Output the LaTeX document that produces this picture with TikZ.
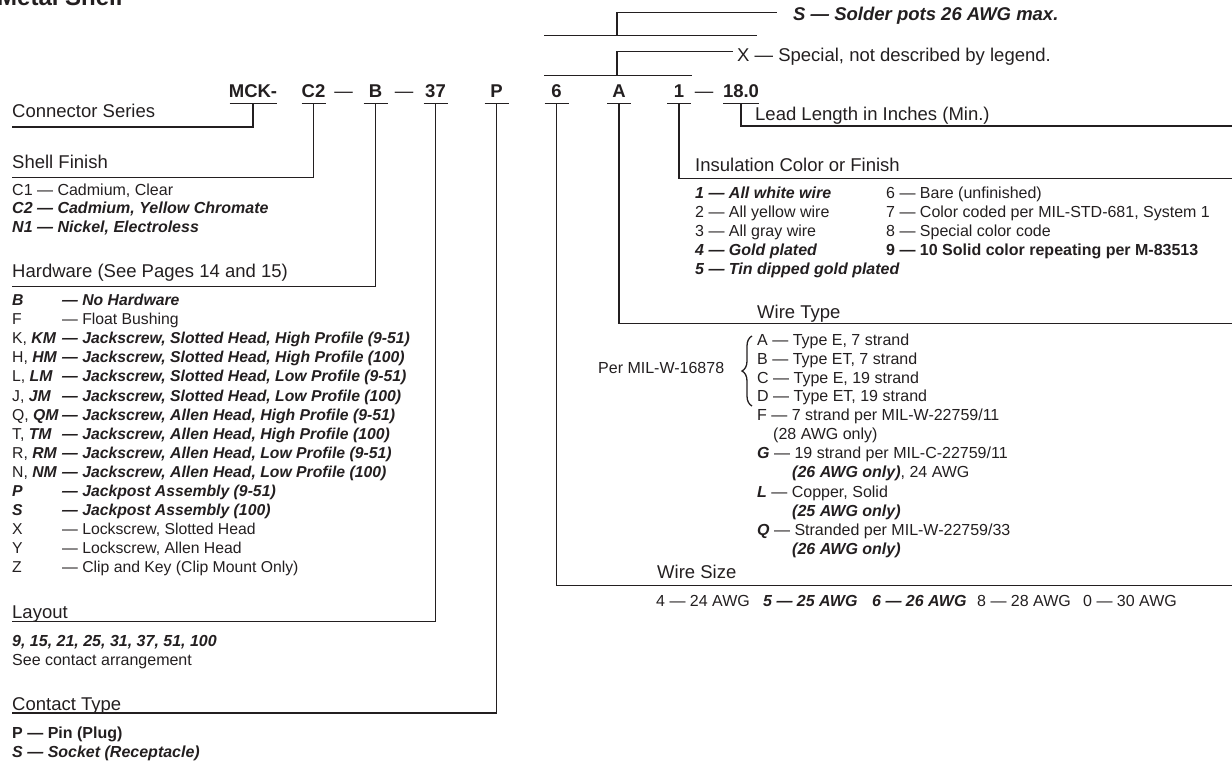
\documentclass[tikz,border=0pt]{standalone}
\usepackage{fontspec}
\setmainfont{Liberation Sans}
\usetikzlibrary{calc,decorations.pathreplacing}
\definecolor{ink}{HTML}{231F20}
\newcommand\BI[1]{{\bfseries\itshape #1}}
\begin{document}
\begin{tikzpicture}[x=1pt,y=-1pt,
  ln/.style={draw=ink, line width=1.4pt},
  head/.style={anchor=base west, inner sep=0pt, font=\fontsize{18.5}{20}\selectfont, text=ink},
  item/.style={anchor=base west, inner sep=0pt, font=\fontsize{16}{18}\selectfont, text=ink},
  hwitem/.style={item, font=\fontsize{15.75}{18}\selectfont},
  code/.style={anchor=base, inner sep=0pt, font=\fontsize{18.5}{20}\selectfont\bfseries, text=ink},
  dsh/.style={anchor=base, inner sep=0pt, font=\fontsize{18.5}{20}\selectfont, text=ink},
]
\useasboundingbox (0,0) rectangle (1232,761);

% title (cut at top)
\node[anchor=base west, inner sep=0pt, font=\fontsize{24}{26}\selectfont\bfseries, text=ink] (title) at (-3,5) {Metal Shell};

% ---------- part number codes ----------
\node[code] (mck) at (253,97.7) {MCK-};
\node[code] (c2) at (313.5,97.7) {C2};
\node[dsh] (d1) at (343.5,97.7) {—};
\node[code] (bb) at (375.5,97.7) {B};
\node[dsh] (d2) at (404,97.7) {—};
\node[code] (l37) at (435.5,97.7) {37};
\node[code] (pp) at (496.5,97.7) {P};
\node[code] (s6) at (556.5,97.7) {6};
\node[code] (aa) at (619,97.7) {A};
\node[code] (one) at (679,97.7) {1};
\node[dsh] (d3) at (704,97.7) {—};
\node[code] (len) at (741,97.7) {18.0};

\foreach \n/\w in {mck/47,c2/24,bb/24,l37/24,pp/24,s6/24,aa/24,one/24,len/36}
  \draw[ln] ($(\n.base)+(-\w/2,5.6)$) -- ($(\n.base)+(\w/2,5.6)$);

% ---------- top brackets ----------
\coordinate (sL) at (544,35.7);
\coordinate (sR) at (757,35.7);
\coordinate (sK) at (617,35.7);
\coordinate (sE) at (777,12.7);
\node[head, font=\fontsize{18.5}{20}\selectfont\bfseries\itshape] (stxt) at (793,20.7) {S — Solder pots 26 AWG max.};
\draw[ln] (sL) -- (sR);
\draw[ln] (sK) |- (sE);

\coordinate (xL) at (544,75.7);
\coordinate (xR) at (692,75.7);
\coordinate (xK) at (617,75.7);
\coordinate (xE) at (733,51.7);
\node[head] (xtxt) at (737,61.7) {X — Special, not described by legend.};
\draw[ln] (xL) -- (xR);
\draw[ln] (xK) |- (xE);

% ---------- left headings ----------
\node[head] (hcs) at (12,117.3) {Connector Series};
\coordinate (ecs) at (12,127);
\node[head] (hsf) at (12,168.3) {Shell Finish};
\coordinate (esf) at (12,177.3);
\node[head] (hhw) at (12,277.3) {Hardware (See Pages 14 and 15)};
\coordinate (ehw) at (12,286.7);
\node[head] (hly) at (12,618) {Layout};
\coordinate (ely) at (12,621.7);
\node[head] (hct) at (12,710) {Contact Type};
\coordinate (ect) at (12,713);

\draw[ln] ($(mck.base)+(0,5.6)$) |- (ecs);
\draw[ln] ($(c2.base)+(0,5.6)$) |- (esf);
\draw[ln] ($(bb.base)+(0,5.6)$) |- (ehw);
\draw[ln] ($(l37.base)+(0,5.6)$) |- (ely);
\draw[ln] ($(pp.base)+(0,5.6)$) |- (ect);

% ---------- right headings ----------
\node[head] (hll) at (755,120.7) {Lead Length in Inches (Min.)};
\coordinate (ell) at (1232,126);
\node[head] (hic) at (695,171.7) {Insulation Color or Finish};
\coordinate (eic) at (1232,178.3);
\node[head] (hwt) at (757,318.3) {Wire Type};
\coordinate (ewt) at (1232,323.3);
\node[head] (hws) at (657,578) {Wire Size};
\coordinate (ews) at (1232,585.7);

\draw[ln] ($(len.base)+(0,5.6)$) |- (ell);
\draw[ln] ($(one.base)+(0,5.6)$) |- (eic);
\draw[ln] ($(aa.base)+(0,5.6)$) |- (ewt);
\draw[ln] ($(s6.base)+(0,5.6)$) |- (ews);

% ---------- Shell finish list ----------
\node[item] (sf1) at (12,195) {C1 — Cadmium, Clear};
\node[item] (sf2) at (12,213.8) {\BI{C2 — Cadmium, Yellow Chromate}};
\node[item] (sf3) at (12,232.7) {\BI{N1 — Nickel, Electroless}};

% ---------- Hardware list ----------
\foreach \i/\a/\b [count=\k from 0] in {
  hw1/{\BI{B}}/{\BI{— No Hardware}},
  hw2/{F}/{— Float Bushing},
  hw3/{K, \BI{KM}}/{\BI{— Jackscrew, Slotted Head, High Profile (9-51)}},
  hw4/{H, \BI{HM}}/{\BI{— Jackscrew, Slotted Head, High Profile (100)}},
  hw5/{L, \BI{LM}}/{\BI{— Jackscrew, Slotted Head, Low Profile (9-51)}},
  hw6/{J, \BI{JM}}/{\BI{— Jackscrew, Slotted Head, Low Profile (100)}},
  hw7/{Q, \BI{QM}}/{\BI{— Jackscrew, Allen Head, High Profile (9-51)}},
  hw8/{T, \BI{TM}}/{\BI{— Jackscrew, Allen Head, High Profile (100)}},
  hw9/{R, \BI{RM}}/{\BI{— Jackscrew, Allen Head, Low Profile (9-51)}},
  hw10/{N, \BI{NM}}/{\BI{— Jackscrew, Allen Head, Low Profile (100)}},
  hw11/{\BI{P}}/{\BI{— Jackpost Assembly (9-51)}},
  hw12/{\BI{S}}/{\BI{— Jackpost Assembly (100)}},
  hw13/{X}/{— Lockscrew, Slotted Head},
  hw14/{Y}/{— Lockscrew, Allen Head},
  hw15/{Z}/{— Clip and Key (Clip Mount Only)}} {
  \node[hwitem] (\i a) at (12,305.7+19.07*\k) {\a};
  \node[hwitem] (\i b) at (62,305.7+19.07*\k) {\b};
}

% ---------- Layout ----------
\node[item] (ly1) at (12,646) {\BI{9, 15, 21, 25, 31, 37, 51, 100}};
\node[item] (ly2) at (12,665) {See contact arrangement};

% ---------- Contact type ----------
\node[item] (ct1) at (12,738) {\bfseries P — Pin (Plug)};
\node[item] (ct2) at (12,757) {\BI{S — Socket (Receptacle)}};

% ---------- Insulation ----------
\node[item] (ic1) at (695,198.3) {\BI{1 — All white wire}};
\node[item] (ic2) at (695,217.3) {2 — All yellow wire};
\node[item] (ic3) at (695,236.3) {3 — All gray wire};
\node[item] (ic4) at (695,255.3) {\BI{4 — Gold plated}};
\node[item] (ic5) at (695,274.3) {\BI{5 — Tin dipped gold plated}};
\node[item] (ic6) at (886,198.3) {6 — Bare (unfinished)};
\node[item] (ic7) at (886,217.3) {7 — Color coded per MIL-STD-681, System 1};
\node[item] (ic8) at (886,236.3) {8 — Special color code};
\node[item] (ic9) at (886,255.3) {\bfseries 9 — 10 Solid color repeating per M-83513};

% ---------- Wire type ----------
\node[item] (per) at (598,373.3) {Per MIL-W-16878};
\coordinate (brT) at (752,336);
\coordinate (brB) at (752,406);
\draw[draw=ink, line width=1.3pt, decorate, decoration={brace, amplitude=10pt}] (brB) -- (brT);
\node[item] (wtA) at (757,345) {A — Type E, 7 strand};
\node[item] (wtB) at (757,364) {B — Type ET, 7 strand};
\node[item] (wtC) at (757,383) {C — Type E, 19 strand};
\node[item] (wtD) at (757,401.7) {D — Type ET, 19 strand};
\node[item] (wtF) at (757,420.7) {F — 7 strand per MIL-W-22759/11};
\node[item] (wtF2) at (773,439.7) {(28 AWG only)};
\node[item] (wtG) at (757,458.7) {\BI{G} — 19 strand per MIL-C-22759/11};
\node[item] (wtG2) at (792,477.8) {\BI{(26 AWG only)}, 24 AWG};
\node[item] (wtL) at (757,497) {\BI{L} — Copper, Solid};
\node[item] (wtL2) at (792,516) {\BI{(25 AWG only)}};
\node[item] (wtQ) at (757,535) {\BI{Q} — Stranded per MIL-W-22759/33};
\node[item] (wtQ2) at (792,554) {\BI{(26 AWG only)}};

% ---------- Wire size ----------
\node[item] (ws4) at (656,606.7) {4 — 24 AWG};
\node[item] (ws5) at (763,606.7) {\BI{5 — 25 AWG}};
\node[item] (ws6) at (872,606.7) {\BI{6 — 26 AWG}};
\node[item] (ws8) at (977,606.7) {8 — 28 AWG};
\node[item] (ws0) at (1083,606.7) {0 — 30 AWG};
\end{tikzpicture}
\end{document}
